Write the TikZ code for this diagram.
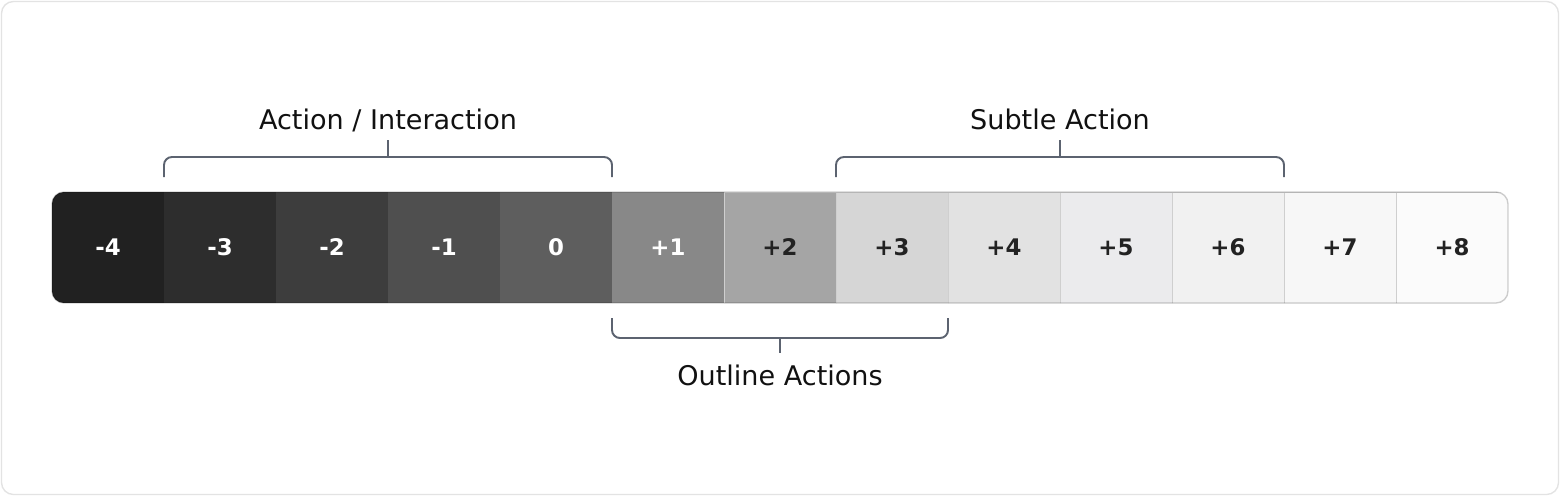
\documentclass[tikz,border=0pt]{standalone}
\usepackage{fontspec}
\setmainfont{DejaVu Sans}
\usetikzlibrary{positioning}

\definecolor{lvlmA}{HTML}{212121}
\definecolor{lvlmB}{HTML}{2D2D2D}
\definecolor{lvlmC}{HTML}{3D3D3D}
\definecolor{lvlmD}{HTML}{4F4F4F}
\definecolor{lvlz}{HTML}{5E5E5E}
\definecolor{lvlpA}{HTML}{888888}
\definecolor{lvlpB}{HTML}{A5A5A5}
\definecolor{lvlpC}{HTML}{D6D6D6}
\definecolor{lvlpD}{HTML}{E2E2E2}
\definecolor{lvlpE}{HTML}{EBEBED}
\definecolor{lvlpF}{HTML}{F1F1F1}
\definecolor{lvlpG}{HTML}{F7F7F7}
\definecolor{lvlpH}{HTML}{FBFBFB}
\definecolor{divGray}{HTML}{CFCFCF}
\definecolor{frameGray}{HTML}{E3E3E3}
\definecolor{brkGray}{HTML}{5C6370}
\definecolor{inkDark}{HTML}{222222}
\definecolor{inkBlack}{HTML}{111111}

\begin{document}
\begin{tikzpicture}[
  node distance=0pt,
  cell/.style={minimum width=2.24cm, minimum height=2.22cm, inner sep=0pt, outer sep=0pt, font=\bfseries\fontsize{13}{15}\selectfont},
  dark/.style={cell, text=white},
  lite/.style={cell, text=inkDark, draw=divGray, line width=0.5pt},
  brk/.style={draw=brkGray, line width=1.1pt, rounded corners=4.5pt},
  lbl/.style={font=\fontsize{15.4}{17}\selectfont, text=inkBlack, inner sep=0pt, outer sep=0.22cm, text depth=0pt},
  frame/.style={draw=frameGray, line width=0.8pt, rounded corners=6.8pt},
]
  \useasboundingbox (0,0) rectangle (31.2,-9.92);
  \draw[frame] (0.03,-0.03) rectangle (31.17,-9.89);

  % Shade strip
  \begin{scope}
    \clip[rounded corners=6.8pt] (1.04,-3.84) rectangle (30.16,-6.06);
    \node[dark, fill=lvlmA, anchor=north west] (cm4) at (1.04,-3.84) {-4};
    \node[dark, fill=lvlmB, right=of cm4] (cm3) {-3};
    \node[dark, fill=lvlmC, right=of cm3] (cm2) {-2};
    \node[dark, fill=lvlmD, right=of cm2] (cm1) {-1};
    \node[dark, fill=lvlz, right=of cm1] (cz) {0};
    \node[dark, fill=lvlpA, right=of cz] (cp1) {+1};
    \node[lite, fill=lvlpB, right=of cp1] (cp2) {+2};
    \node[lite, fill=lvlpC, right=of cp2] (cp3) {+3};
    \node[lite, fill=lvlpD, right=of cp3] (cp4) {+4};
    \node[lite, fill=lvlpE, right=of cp4] (cp5) {+5};
    \node[lite, fill=lvlpF, right=of cp5] (cp6) {+6};
    \node[lite, fill=lvlpG, right=of cp6] (cp7) {+7};
    \node[lite, fill=lvlpH, right=of cp7] (cp8) {+8};
  \end{scope}
  \draw[draw=divGray, line width=0.8pt, rounded corners=6.8pt, blend mode=multiply] (cm4.north west) rectangle (cp8.south east);

  % Brackets above
  \draw[brk] ([yshift=0.3cm]cm3.north west) -- ([yshift=0.7cm]cm3.north west) -- ([yshift=0.7cm]cz.north east) -- ([yshift=0.3cm]cz.north east);
  \draw[brk] ([yshift=0.3cm]cp3.north west) -- ([yshift=0.7cm]cp3.north west) -- ([yshift=0.7cm]cp6.north east) -- ([yshift=0.3cm]cp6.north east);

  % Bracket below
  \draw[brk] ([yshift=-0.3cm]cp1.south west) -- ([yshift=-0.7cm]cp1.south west) -- ([yshift=-0.7cm]cp3.south east) -- ([yshift=-0.3cm]cp3.south east);

  % Labels
  \coordinate[above=0.7cm of cm2.north east] (actmid);
  \coordinate[above=0.7cm of cp4.north east] (submid);
  \coordinate[below=0.7cm of cp2.south] (outmid);
  \node[lbl, above=0.34cm of actmid] (act) {Action / Interaction};
  \node[lbl, above=0.34cm of submid] (sub) {Subtle Action};
  \node[lbl, below=0.3cm of outmid, outer sep=0.24cm] (outl) {Outline Actions};

  \draw[brk] (actmid) -- (act);
  \draw[brk] (submid) -- (sub);
  \draw[brk] (outmid) -- (outl);
\end{tikzpicture}
\end{document}
